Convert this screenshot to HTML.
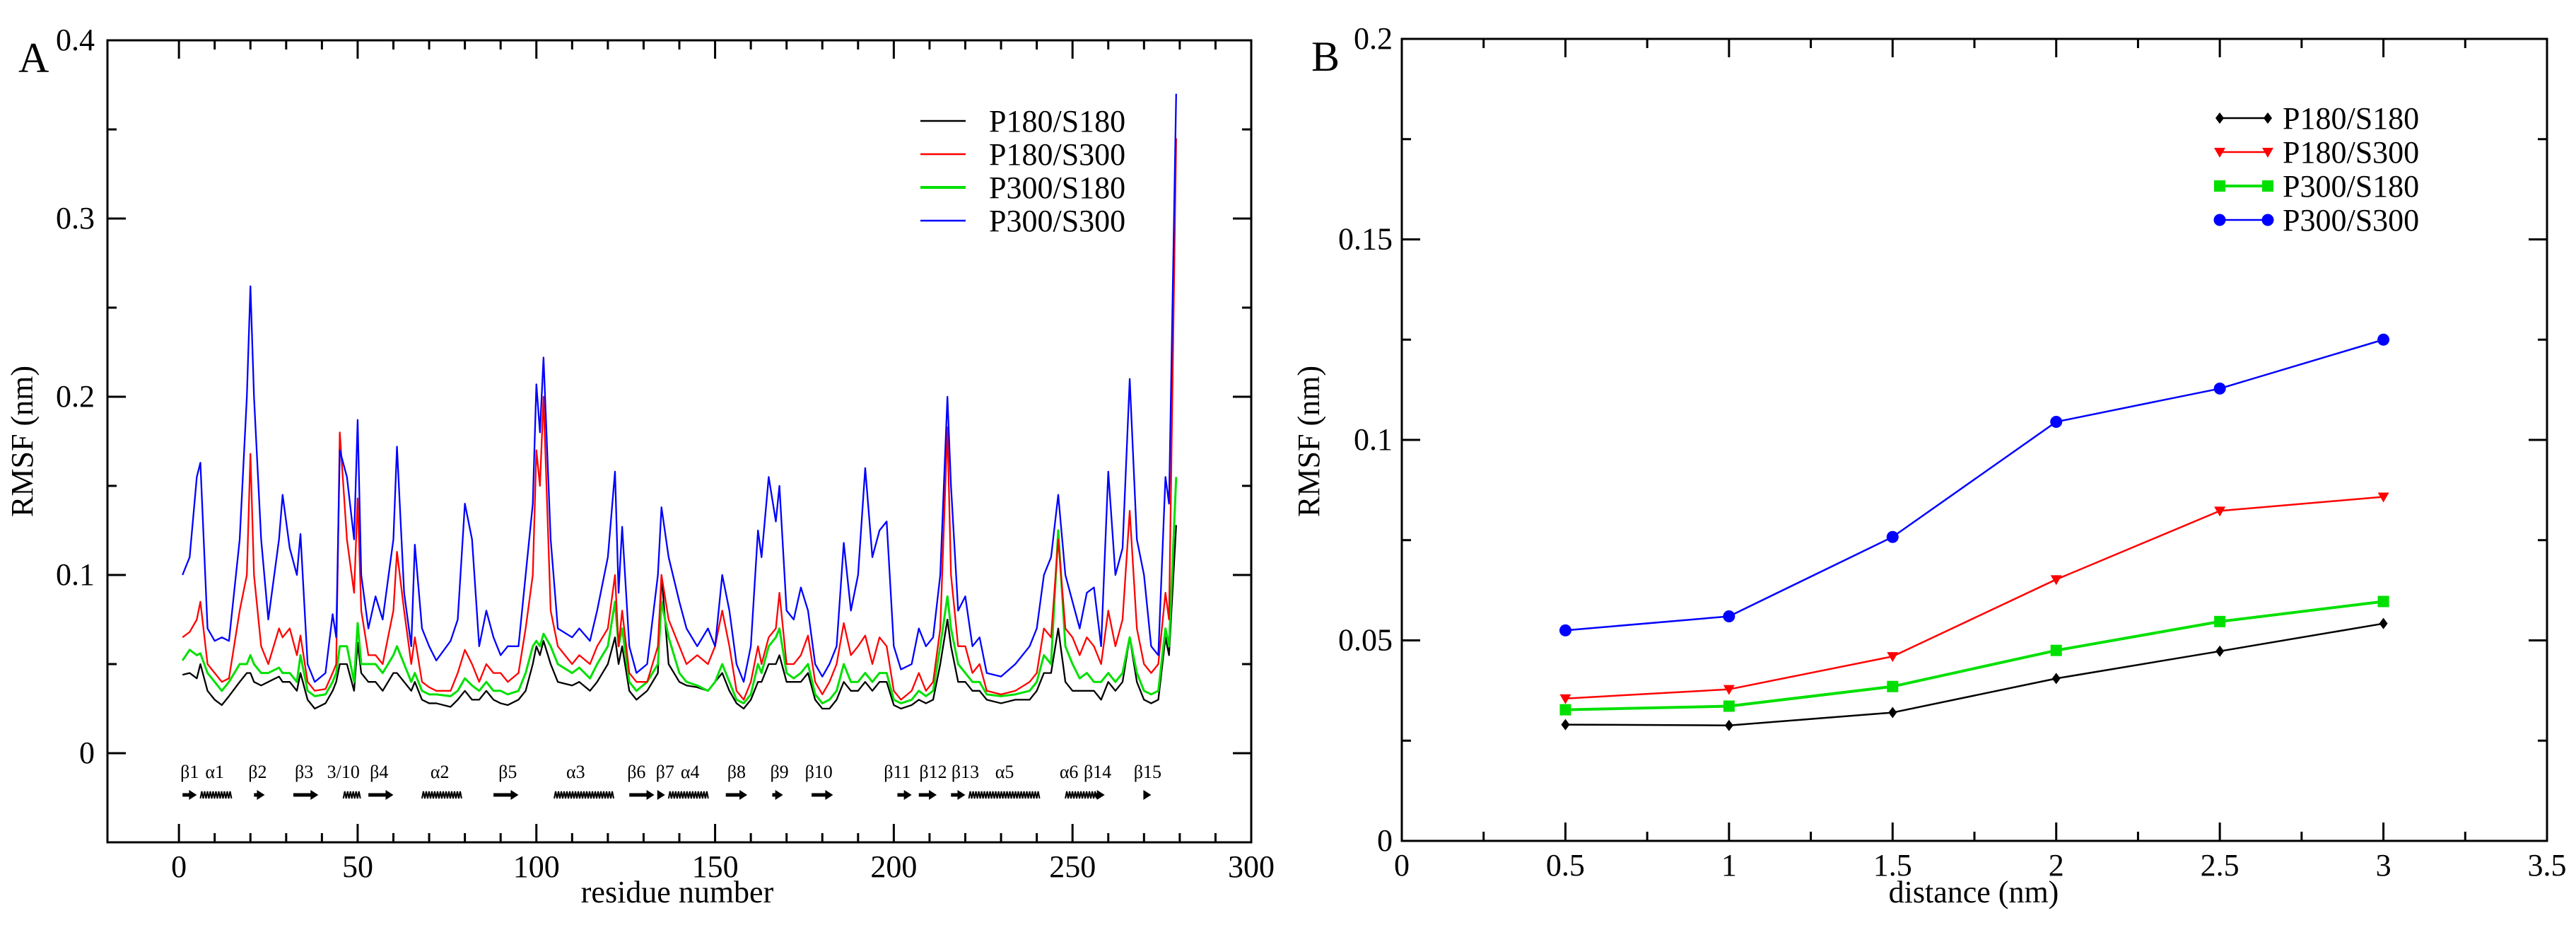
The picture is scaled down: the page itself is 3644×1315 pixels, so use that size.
<!DOCTYPE html>
<html><head><meta charset="utf-8"><style>
html,body{margin:0;padding:0;background:#fff;}
svg{display:block;font-family:"Liberation Serif",serif;}
</style></head><body>
<svg id="fig" width="3644" height="1315" viewBox="0 0 3644 1315" xmlns="http://www.w3.org/2000/svg"></svg>
<script>
// ---------- Panel A data ----------
const residues=[1,3,5,6,8,10,12,14,17,19,20,21,23,25,28,29,31,33,34,36,38,41,43,44,45,47,49,50,51,53,55,57,60,61,63,65,66,68,70,72,76,78,80,82,84,86,88,90,92,95,97,99,100,101,102,104,106,110,112,115,117,120,122,123,124,126,128,131,134,135,137,140,142,145,148,150,152,154,156,158,160,162,163,165,167,168,170,172,174,176,178,180,182,184,186,188,190,192,194,196,198,200,202,205,207,209,211,213,215,216,218,220,222,224,226,230,234,238,240,242,244,246,248,250,252,254,256,258,260,262,264,266,268,270,272,274,276,277,279];
const rmsfP180S180=[.044,.045,.042,.05,.035,.03,.027,.032,.04,.045,.045,.04,.038,.04,.043,.04,.04,.035,.045,.03,.025,.028,.035,.04,.05,.05,.035,.062,.045,.04,.04,.035,.045,.045,.04,.035,.04,.03,.028,.028,.026,.03,.035,.03,.03,.035,.03,.028,.027,.03,.035,.05,.06,.055,.063,.05,.04,.038,.04,.035,.04,.05,.065,.05,.06,.035,.03,.035,.045,.1,.05,.04,.038,.037,.035,.04,.045,.035,.028,.025,.03,.04,.04,.05,.05,.055,.04,.04,.04,.045,.03,.025,.025,.03,.04,.035,.035,.04,.035,.04,.04,.027,.025,.027,.03,.028,.03,.05,.075,.06,.04,.04,.035,.035,.03,.028,.03,.03,.035,.045,.045,.07,.04,.035,.035,.035,.035,.03,.04,.035,.04,.065,.04,.03,.028,.03,.065,.055,.128];
const rmsfP180S300=[.065,.068,.075,.085,.05,.045,.04,.042,.08,.1,.168,.1,.06,.05,.07,.065,.07,.055,.066,.04,.035,.036,.045,.05,.18,.12,.09,.143,.08,.055,.055,.05,.08,.113,.08,.05,.065,.04,.037,.035,.035,.045,.058,.05,.04,.05,.045,.045,.04,.045,.07,.1,.17,.15,.2,.08,.06,.05,.055,.05,.06,.07,.1,.06,.08,.045,.04,.04,.06,.1,.075,.06,.05,.055,.05,.06,.08,.06,.035,.03,.04,.06,.05,.065,.07,.09,.05,.05,.055,.066,.04,.033,.04,.05,.073,.055,.06,.066,.05,.065,.06,.035,.03,.035,.045,.035,.04,.07,.183,.1,.06,.06,.045,.05,.035,.033,.035,.04,.045,.07,.065,.12,.07,.065,.055,.065,.06,.05,.08,.06,.075,.136,.07,.05,.045,.05,.09,.075,.345];
const rmsfP300S180=[.052,.058,.055,.056,.045,.04,.035,.04,.05,.05,.055,.05,.045,.045,.048,.045,.045,.04,.055,.035,.032,.033,.04,.045,.06,.06,.04,.073,.05,.05,.05,.045,.055,.06,.05,.04,.045,.035,.033,.033,.032,.035,.042,.038,.035,.04,.035,.035,.033,.035,.045,.06,.063,.06,.067,.06,.05,.045,.048,.042,.05,.06,.085,.06,.07,.04,.035,.04,.05,.085,.065,.045,.04,.038,.035,.04,.05,.04,.03,.028,.033,.05,.045,.06,.065,.07,.045,.042,.045,.05,.033,.028,.03,.035,.05,.04,.04,.045,.04,.045,.045,.03,.028,.03,.035,.032,.035,.06,.088,.07,.05,.045,.04,.04,.033,.032,.033,.035,.04,.055,.05,.125,.06,.05,.042,.045,.04,.04,.045,.04,.045,.065,.045,.035,.033,.035,.07,.06,.155];
const rmsfP300S300=[.1,.11,.155,.163,.07,.063,.065,.063,.12,.2,.262,.2,.12,.075,.12,.145,.115,.1,.123,.05,.04,.045,.078,.065,.17,.155,.12,.187,.1,.07,.088,.075,.12,.172,.09,.06,.117,.07,.06,.052,.063,.075,.14,.12,.06,.08,.065,.055,.06,.06,.1,.14,.207,.18,.222,.12,.07,.065,.07,.063,.08,.11,.158,.09,.127,.06,.045,.05,.1,.138,.11,.085,.07,.06,.07,.06,.1,.08,.05,.04,.06,.125,.11,.155,.13,.15,.08,.075,.093,.08,.05,.043,.05,.06,.118,.08,.1,.16,.11,.125,.13,.06,.047,.05,.07,.06,.065,.1,.2,.15,.08,.088,.06,.065,.045,.043,.05,.06,.07,.1,.11,.145,.1,.085,.07,.09,.093,.06,.158,.1,.115,.21,.12,.1,.06,.055,.155,.14,.37];
const seriesNames=["P180/S180","P180/S300","P300/S180","P300/S300"];
const seriesColors=["#000000","#ff0000","#00e000","#0000ff"];
const xTicksA=[0,50,100,150,200,250,300];
const yTicksA=[0,0.1,0.2,0.3,0.4];
const ssLabels=["β1","α1","β2","β3","3/10","β4","α2","β5","α3","β6","β7","α4","β8","β9","β10","β11","β12","β13","α5","α6","β14","β15"];
const ssLabelPos=[3,10,22,35,46,56,73,92,111,128,136,143,156,168,179,201,211,220,231,249,257,271];
const ssType=["E","H","E","E","H","E","H","E","H","E","E","H","E","E","E","E","E","E","H","H","E","E"];
const ssStart=[1,6,21,32,46,53,68,88,105,126,134,137,153,166,177,201,207,216,221,248,256,270];
const ssEnd=[5,14,24,39,50,60,79,95,121,133,136,148,159,169,183,205,212,220,240,256,259,272];
// ---------- Panel B data ----------
const distances=[0.5,1,1.5,2,2.5,3];
const bP180S180=[.029,.0288,.032,.0405,.0473,.0542];
const bP180S300=[.0355,.0378,.046,.0652,.0823,.0858];
const bP300S180=[.0327,.0336,.0385,.0475,.0547,.0597];
const bP300S300=[.0525,.056,.0758,.1045,.1128,.125];
const xTicksB=[0,0.5,1,1.5,2,2.5,3,3.5];
const yTicksB=["0","0.05","0.1","0.15","0.2"];

const NS="http://www.w3.org/2000/svg";
const svg=document.getElementById('fig');
function mk(tag,attrs,parent,text){const e=document.createElementNS(NS,tag);for(const k in attrs)e.setAttribute(k,attrs[k]);if(text!==undefined)e.textContent=text;(parent||svg).appendChild(e);return e;}

// ===== Panel A =====
const A={l:152,r:1770,t:57,b:1191,x0:-20,x1:300,y0:-0.05,y1:0.4};
const xA=v=>A.l+(v-A.x0)/(A.x1-A.x0)*(A.r-A.l);
const yA=v=>A.b-(v-A.y0)/(A.y1-A.y0)*(A.b-A.t);
const gA=mk('g',{});


// ticks
for(let v=0;v<=300;v+=10){const maj=v%50===0,L=maj?26:13;const x=xA(v);
 mk('line',{x1:x,y1:A.b,x2:x,y2:A.b-L,stroke:'#000','stroke-width':3},gA);
 mk('line',{x1:x,y1:A.t,x2:x,y2:A.t+L,stroke:'#000','stroke-width':3},gA);}
for(let i=-1;i<=8;i++){const v=i*0.05,maj=i%2===0,L=maj?26:13;const y=yA(v);
 mk('line',{x1:A.l,y1:y,x2:A.l+L,y2:y,stroke:'#000','stroke-width':3},gA);
 mk('line',{x1:A.r,y1:y,x2:A.r-L,y2:y,stroke:'#000','stroke-width':3},gA);}
xTicksA.forEach(v=>{const t=mk('text',{x:xA(v),y:1240,'font-size':44,'text-anchor':'middle'},gA,String(v));
 
 });
yTicksA.forEach(v=>{const t=mk('text',{x:134,y:yA(v)+14,'font-size':44,'text-anchor':'end'},gA,String(v));
 
 });
// series
[rmsfP180S180,rmsfP300S180,rmsfP180S300,rmsfP300S300].forEach((arr,k)=>{
 const idx=[0,2,1,3][k];
 const p=mk('polyline',{points:arr.map((v,i)=>xA(residues[i])+','+yA(v)).join(' '),fill:'none',stroke:seriesColors[idx],'stroke-width':idx===2?3:2.3,'stroke-linejoin':'round'},gA);
 
 });
// secondary structure
const ssG=mk('g',{},gA);


ssLabels.forEach((s,i)=>{mk('text',{x:xA(ssLabelPos[i]),y:1100,'font-size':26,'text-anchor':'middle'},ssG,s);
 const x1=xA(ssStart[i]),x2=xA(ssEnd[i]),y=1124;
 if(ssType[i]==='E'){mk('line',{x1:x1,y1:y,x2:x2-8,y2:y,stroke:'#000','stroke-width':5},ssG);
  mk('polygon',{points:`${x2},${y} ${x2-11},${y-7} ${x2-11},${y+7}`,fill:'#000'},ssG);}
 else{let d=`M${x1},${y+5}`;for(let x=x1;x<x2;x+=4){d+=` L${x+2},${y-5} L${x+4},${y+5}`;}
  mk('path',{d:d,fill:'none',stroke:'#000','stroke-width':2},ssG);}});
// frame
mk('rect',{x:A.l,y:A.t,width:A.r-A.l,height:A.b-A.t,fill:'none',stroke:'#000','stroke-width':3},gA);
// legend
const legA=mk('g',{},gA);


seriesNames.forEach((n,i)=>{const y=171+i*47;
 mk('line',{x1:1302,y1:y,x2:1366,y2:y,stroke:seriesColors[i],'stroke-width':i===2?4:2.5},legA);
 mk('text',{x:1399,y:y+15,'font-size':44},legA,n);});
let t=mk('text',{x:958,y:1276,'font-size':44,'text-anchor':'middle'},gA,'residue number');


t=mk('text',{x:0,y:0,'font-size':44,'text-anchor':'middle',transform:'translate(46,624) rotate(-90)'},gA,'RMSF (nm)');


t=mk('text',{x:26,y:102,'font-size':60},gA,'A');



// ===== Panel B =====
const B={l:1983,r:3603,t:55,b:1189,x0:0,x1:3.5,y0:0,y1:0.2};
const xB=v=>B.l+(v-B.x0)/(B.x1-B.x0)*(B.r-B.l);
const yB=v=>B.b-(v-B.y0)/(B.y1-B.y0)*(B.b-B.t);
const gB=mk('g',{});


for(let i=0;i<=14;i++){const v=i*0.25,maj=i%2===0,L=maj?26:13,x=xB(v);
 mk('line',{x1:x,y1:B.b,x2:x,y2:B.b-L,stroke:'#000','stroke-width':3},gB);
 mk('line',{x1:x,y1:B.t,x2:x,y2:B.t+L,stroke:'#000','stroke-width':3},gB);}
for(let i=0;i<=8;i++){const v=i*0.025,maj=i%2===0,L=maj?26:13,y=yB(v);
 mk('line',{x1:B.l,y1:y,x2:B.l+L,y2:y,stroke:'#000','stroke-width':3},gB);
 mk('line',{x1:B.r,y1:y,x2:B.r-L,y2:y,stroke:'#000','stroke-width':3},gB);}
xTicksB.forEach(v=>{const t=mk('text',{x:xB(v),y:1238,'font-size':44,'text-anchor':'middle'},gB,String(v));
 
 });
yTicksB.forEach(s=>{const t=mk('text',{x:1970,y:yB(parseFloat(s))+14,'font-size':44,'text-anchor':'end'},gB,s);
 
 });
function marker(g,type,x,y,c){
 if(type===0)mk('polygon',{points:`${x},${y-8} ${x+6},${y} ${x},${y+8} ${x-6},${y}`,fill:c},g);
 else if(type===1)mk('polygon',{points:`${x-8},${y-6} ${x+8},${y-6} ${x},${y+8}`,fill:c},g);
 else if(type===2)mk('rect',{x:x-8,y:y-8,width:16,height:16,fill:c},g);
 else mk('circle',{cx:x,cy:y,r:8.5,fill:c},g);}
[bP180S180,bP180S300,bP300S180,bP300S300].forEach((arr,i)=>{
 const g=mk('g',{},gB);
 
 
 mk('polyline',{points:arr.map((v,j)=>xB(distances[j])+','+yB(v)).join(' '),fill:'none',stroke:seriesColors[i],'stroke-width':i===2?4:2.5},g);
 arr.forEach((v,j)=>marker(g,i,xB(distances[j]),yB(v),seriesColors[i]));});
mk('rect',{x:B.l,y:B.t,width:B.r-B.l,height:B.b-B.t,fill:'none',stroke:'#000','stroke-width':3},gB);
const legB=mk('g',{},gB);


seriesNames.forEach((n,i)=>{const y=167+i*48;
 mk('line',{x1:3140,y1:y,x2:3208,y2:y,stroke:seriesColors[i],'stroke-width':i===2?4:2.5},legB);
 marker(legB,i,3140,y,seriesColors[i]);marker(legB,i,3208,y,seriesColors[i]);
 mk('text',{x:3229,y:y+15,'font-size':44},legB,n);});
t=mk('text',{x:2792,y:1276,'font-size':44,'text-anchor':'middle'},gB,'distance (nm)');


t=mk('text',{x:0,y:0,'font-size':44,'text-anchor':'middle',transform:'translate(1866,624) rotate(-90)'},gB,'RMSF (nm)');


t=mk('text',{x:1855,y:100,'font-size':60},gB,'B');


</script>
</body></html>
